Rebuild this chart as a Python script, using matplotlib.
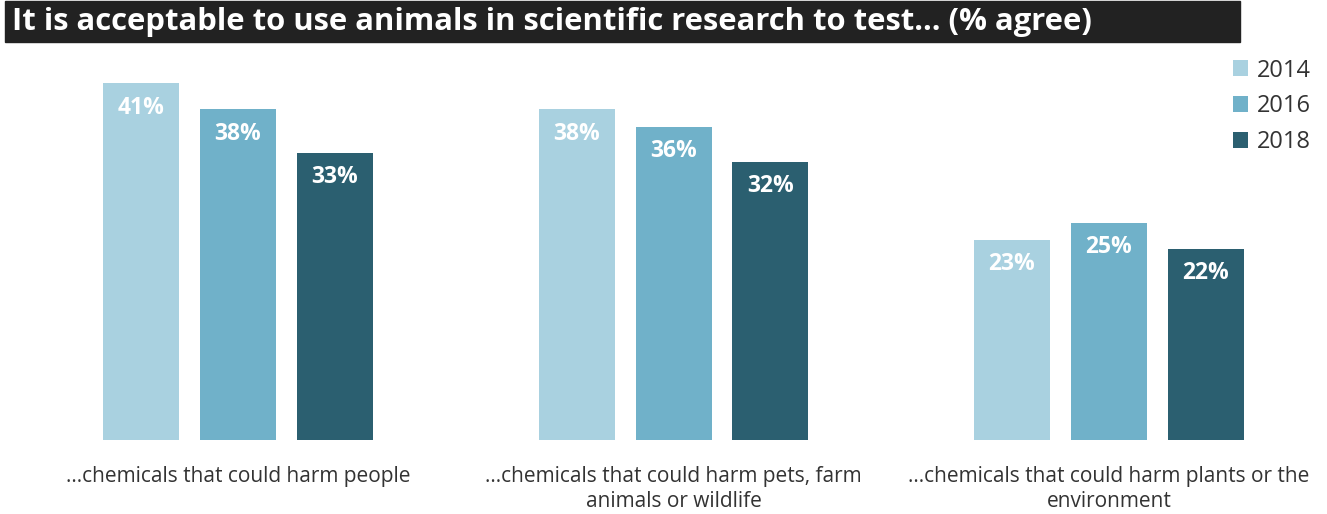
import numpy as np
import matplotlib.pyplot as plt
from matplotlib.patches import Rectangle

categories = [
    "...chemicals that could harm people",
    "...chemicals that could harm pets, farm\nanimals or wildlife",
    "...chemicals that could harm plants or the\nenvironment",
]
years = ["2014", "2016", "2018"]
values_2014 = [41, 38, 23]
values_2016 = [38, 36, 25]
values_2018 = [33, 32, 22]
colors = ["#A9D1E0", "#70B1C9", "#2B5F70"]

title = "It is acceptable to use animals in scientific research to test... (% agree)"


def plot():
    plt.rcParams['font.family'] = ['Open Sans', 'DejaVu Sans']
    fig = plt.figure(figsize=(13.27, 5.14), dpi=100)

    # title bar across the top
    fig.patches.append(Rectangle((5 / 1327, 1 - 42 / 514), 1235 / 1327, 41 / 514,
                                 transform=fig.transFigure, color="#222222", zorder=0))
    fig.text(12 / 1327, 1 - 22 / 514, title, color="white", fontsize=22.3,
             fontweight="bold", va="center", ha="left")

    ax = fig.add_axes([0, 74 / 514, 1, 391.5 / 514])
    x = np.arange(len(categories))
    step = 97 / 435.5
    width = 76 / 435.5
    series = [values_2014, values_2016, values_2018]
    for i, (vals, col, yr) in enumerate(zip(series, colors, years)):
        pos = x + (i - 1) * step
        ax.bar(pos, vals, width=width, color=col, label=yr)
        for px, v in zip(pos, vals):
            ax.text(px, v - 2.8, f"{v}%", ha="center", va="center", color="white",
                    fontsize=16.5, fontweight="bold")

    ax.set_xlim(-238 / 435.5, (1327 - 238) / 435.5)
    ax.set_ylim(0, 45)
    ax.axis("off")

    for xi, cat in zip(x, categories):
        ax.annotate(cat, (xi, 0), xytext=(0, -19), textcoords="offset points",
                    ha="center", va="top", fontsize=15, color="#333333",
                    linespacing=1.2)

    fig.legend(loc="upper right", bbox_to_anchor=(1.0, 1 - 42 / 514),
               frameon=False, fontsize=17, handlelength=0.65, handleheight=0.65,
               handletextpad=0.35, labelspacing=0.5, labelcolor="#333333",
               borderaxespad=0.3)

    fig.savefig("out.png", dpi=100)


if __name__ == "__main__":
    plot()
